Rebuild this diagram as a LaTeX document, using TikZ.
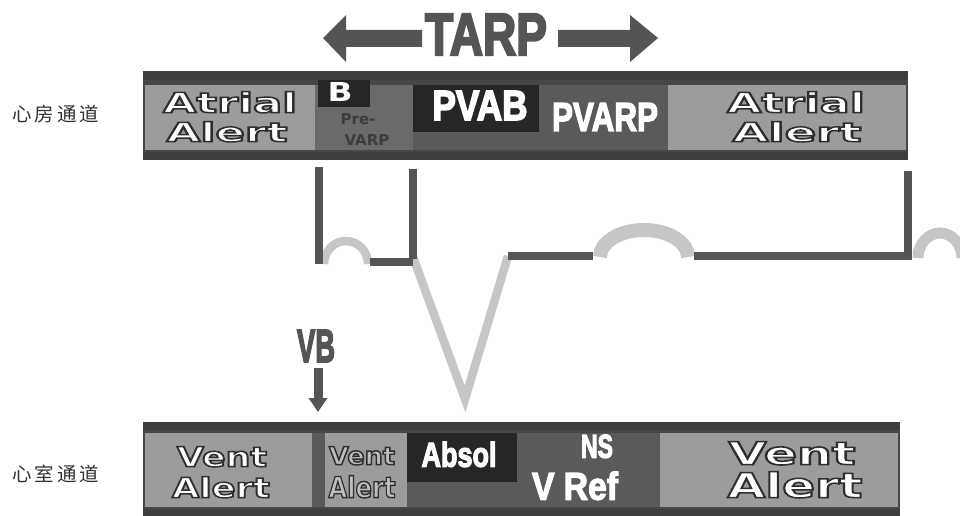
\documentclass[tikz,border=0pt]{standalone}
\usepackage{fontspec}
\usepackage{graphicx}
\setmainfont{Liberation Sans}
\newfontfamily\widef{DejaVu Sans}
\newfontfamily\cjk{Noto Sans CJK SC}
\usetikzlibrary{arrows.meta}
\definecolor{framec}{HTML}{474747}
\definecolor{bandc}{HTML}{3E3E3E}
\definecolor{lightbox}{HTML}{9C9C9C}
\definecolor{midbox}{HTML}{6A6A6A}
\definecolor{midbox2}{HTML}{5A5A5A}
\definecolor{blackbox}{HTML}{262626}
\definecolor{smallfill}{HTML}{BEBEBE}
\definecolor{tracedark}{HTML}{555555}
\definecolor{tracelight}{HTML}{C6C6C6}
\definecolor{headc}{HTML}{555555}
\definecolor{prevarpc}{HTML}{3C3C3C}
\definecolor{cjkc}{HTML}{333333}
% fill + stroke the glyph outlines: stroke width, stroke grey level, text
\newcommand{\strk}[3]{\special{pdf:literal direct 2 Tr #1 w #2 G}#3\special{pdf:literal direct 0 Tr}}
% wide bold text with dark outline: width, height, font size, stroke width, text
\newcommand{\owb}[5]{\resizebox{#1pt}{#2pt}{\fontsize{#3}{#3}\selectfont\widef\bfseries\strk{#4}{0.18}{#5}}}
% heavy condensed text: width, height, font size, stroke width, stroke grey, text
\newcommand{\hvb}[6]{\resizebox{#1pt}{#2pt}{\fontsize{#3}{#3}\selectfont\bfseries\strk{#4}{#5}{#6}}}
\newcommand{\wb}[3]{\resizebox{#1pt}{#2pt}{\widef\bfseries #3}}
\tikzset{
 lbl/.style={anchor=south,inner sep=0pt,outer sep=0pt},
 darkline/.style={draw=tracedark,line width=7.5pt},
 lightline/.style={draw=tracelight,line width=8.5pt},
 prelbl/.style={anchor=south,inner sep=0pt,outer sep=0pt,text=prevarpc,font=\widef\bfseries\fontsize{15}{15}\selectfont},
 cjklbl/.style={anchor=west,inner sep=0pt,text=cjkc,font=\cjk\fontsize{19.5}{20}\selectfont},
 vbarrow/.style={draw=headc,line width=9pt,-{Triangle[width=18pt,length=14pt]}}
}
\begin{document}
\begin{tikzpicture}[x=1pt,y=-1pt]
\fill[white] (0,0) rectangle (960,516);
\useasboundingbox (0,0) rectangle (960,516);

% ---------- TARP double arrow ----------
\fill[headc] (323,38) -- (346,15) -- (346,30) -- (422,30) -- (422,47) -- (346,47) -- (346,62) -- cycle;
\fill[headc] (658,38) -- (630,15) -- (630,30) -- (558,30) -- (558,47) -- (630,47) -- (630,62) -- cycle;
\node[lbl,text=headc] (tarp) at (486,55) {\hvb{122}{41}{57}{2.2}{0.333}{TARP}};

% ---------- atrial channel bar ----------
\fill[framec] (143,71) rectangle (908,160);
\fill[bandc] (143,71) rectangle (908,80);
\fill[bandc] (143,152) rectangle (908,160);
\fill[lightbox] (145,85) rectangle (315,150);
\fill[midbox] (315,85) rectangle (413,150);
\fill[midbox2] (413,85) rectangle (668,150);
\fill[blackbox] (318,80) rectangle (370,107);
\fill[blackbox] (413,85) rectangle (539,132);
\fill[lightbox] (668,85) rectangle (906,150);

\node[lbl,text=white] (atrL1) at (230,113) {\owb{134}{21}{28}{1.5}{Atrial}};
\node[lbl,text=white] (atrL2) at (227,142) {\owb{121}{20}{27}{1.5}{Alert}};
\node[lbl,text=white] (bl) at (340,102) {\wb{25}{19}{B}};
\node[prelbl] (pre1) at (358,125) {Pre-};
\node[prelbl] (pre2) at (367,145) {VARP};
\node[lbl,text=white] (pvab) at (480,120) {\hvb{95}{29}{40}{1.6}{1}{PVAB}};
\node[lbl,text=white] (pvarp) at (605,131) {\hvb{106}{28}{39}{1.4}{1}{PVARP}};
\node[lbl,text=white] (atrR1) at (796,113) {\owb{138}{21}{28}{1.5}{Atrial}};
\node[lbl,text=white] (atrR2) at (797,142) {\owb{129}{20}{27}{1.5}{Alert}};

% ---------- ventricular channel bar ----------
\fill[framec] (143,422) rectangle (900,516);
\fill[bandc] (143,422) rectangle (900,430);
\fill[bandc] (143,509) rectangle (900,516);
\fill[lightbox] (145,433) rectangle (312,507);
\fill[midbox2] (312,433) rectangle (325,507);
\fill[lightbox] (325,433) rectangle (407,507);
\fill[midbox2] (407,433) rectangle (660,507);
\fill[blackbox] (407,433) rectangle (517,482);
\fill[lightbox] (660,433) rectangle (898,507);

\node[lbl,text=white] (venL1) at (222,467) {\owb{90}{20}{27}{1.5}{Vent}};
\node[lbl,text=white] (venL2) at (221,498) {\owb{98}{21}{28}{1.5}{Alert}};
\node[lbl,text=smallfill] (venS1) at (362,465) {\owb{66}{18}{24}{1.4}{Vent}};
\node[lbl,text=smallfill] (venS2) at (362,498) {\owb{67}{22}{29}{1.4}{Alert}};
\node[lbl,text=white] (absol) at (459,467) {\hvb{75}{25}{35}{1.3}{1}{Absol}};
\node[lbl,text=white] (ns) at (597,458) {\hvb{32}{23}{32}{1.2}{1}{NS}};
\node[lbl,text=white] (vref) at (575,500) {\hvb{86}{28}{39}{1.3}{1}{V Ref}};
\node[lbl,text=white] (venR1) at (792,465) {\owb{127}{23}{30}{1.5}{Vent}};
\node[lbl,text=white] (venR2) at (795,498) {\owb{135}{26}{34}{1.5}{Alert}};

% ---------- channel names ----------
\node[cjklbl] (chA) at (12,114) {心\kern3pt 房\kern3pt 通\kern3pt 道};
\node[cjklbl] (chV) at (12,474) {心\kern3pt 室\kern3pt 通\kern3pt 道};

% ---------- ECG trace ----------
\draw[lightline] (324,264) arc[start angle=180,end angle=360,x radius=22,y radius=23];
\draw[lightline,line join=miter] (413,257) -- (465,399) -- (508,256);
\draw[draw=tracelight,line width=14pt] (600,257) arc[start angle=180,end angle=360,x radius=44,y radius=27];
\draw[draw=tracelight,line width=11pt] (918,258) arc[start angle=180,end angle=360,x radius=22,y radius=25];
\draw[darkline] (319,167) -- (319,264);
\draw[darkline,line width=8pt] (370,262) -- (413,262);
\draw[darkline] (413,169) -- (413,259);
\draw[darkline,line width=8pt] (508,256) -- (593,256);
\draw[darkline,line width=8pt] (694,256) -- (912,256);
\draw[darkline] (908,171) -- (908,257);

% ---------- VB marker ----------
\node[lbl,text=headc] (vb) at (316,362) {\hvb{38}{32}{45}{1.8}{0.333}{VB}};
\coordinate (vbstart) at (318,368);
\coordinate (vbend) at (318,412);
\draw[vbarrow] (vbstart) -- (vbend);
\end{tikzpicture}
\end{document}
